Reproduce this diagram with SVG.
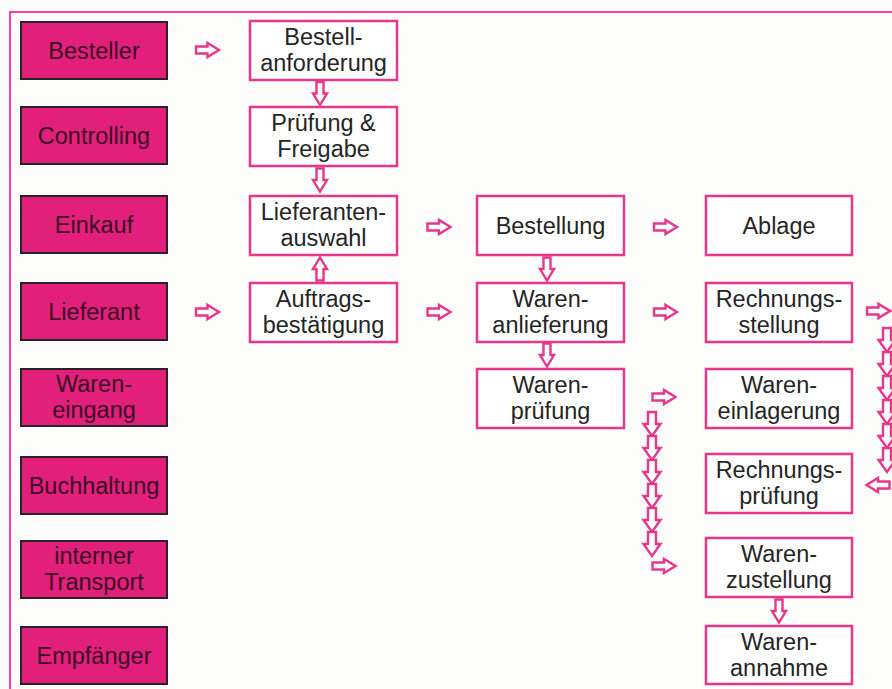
<svg xmlns="http://www.w3.org/2000/svg" xmlns:xlink="http://www.w3.org/1999/xlink" width="892" height="689" viewBox="0 0 892 689">
<style>
.lane rect{fill:#e2207b;stroke:#2b2228;stroke-width:2}
.lane text{fill:#3a0c24;font-family:"Liberation Sans",Arial,sans-serif;font-size:23.5px;text-anchor:middle}
.step rect{fill:#fff;stroke:#e8368a;stroke-width:2.5}
.step text{fill:#252525;font-family:"Liberation Sans",Arial,sans-serif;font-size:23.5px;text-anchor:middle}
.arr{fill:#fff;stroke:#e8368a;stroke-width:2.4;stroke-linejoin:miter}
</style>
<defs>
<path id="ar" d="M-11.5,-3.5 H0 V-7 L11.5,0 L0,7 V3.5 H-11.5 Z"/>
<path id="ac" d="M-12,-4 H0 V-8.5 L12,0 L0,8.5 V4 H-12 Z"/>
</defs>
<rect x="0" y="0" width="892" height="689" fill="#fdfdfb"/>
<path d="M10,689 V12 H892" fill="none" stroke="#ff3ea5" stroke-width="2"/>

<g id="lane-besteller" class="lane"><rect x="21" y="22" width="146" height="57"/><text x="94" y="59">Besteller</text></g>
<g id="lane-controlling" class="lane"><rect x="21" y="107" width="146" height="57"/><text x="94" y="144">Controlling</text></g>
<g id="lane-einkauf" class="lane"><rect x="21" y="196" width="146" height="57"/><text x="94" y="233">Einkauf</text></g>
<g id="lane-lieferant" class="lane"><rect x="21" y="283" width="146" height="57"/><text x="94" y="320">Lieferant</text></g>
<g id="lane-wareneingang" class="lane"><rect x="21" y="369" width="146" height="57"/><text x="94" y="392">Waren-</text><text x="94" y="418">eingang</text></g>
<g id="lane-buchhaltung" class="lane"><rect x="21" y="457" width="146" height="57"/><text x="94" y="494">Buchhaltung</text></g>
<g id="lane-transport" class="lane"><rect x="21" y="541" width="146" height="57"/><text x="94" y="564">interner</text><text x="94" y="590">Transport</text></g>
<g id="lane-empfaenger" class="lane"><rect x="21" y="627" width="146" height="57"/><text x="94" y="664">Empfänger</text></g>

<g id="bestellanforderung" class="step"><rect x="250" y="21" width="147" height="59"/><text x="323.5" y="45">Bestell-</text><text x="323.5" y="71">anforderung</text></g>
<g id="pruefung-freigabe" class="step"><rect x="250" y="107" width="147" height="59"/><text x="323.5" y="131">Prüfung &amp;</text><text x="323.5" y="157">Freigabe</text></g>
<g id="lieferantenauswahl" class="step"><rect x="250" y="196" width="147" height="59"/><text x="323.5" y="220">Lieferanten-</text><text x="323.5" y="246">auswahl</text></g>
<g id="auftragsbestaetigung" class="step"><rect x="250" y="283" width="147" height="59"/><text x="323.5" y="307">Auftrags-</text><text x="323.5" y="333">bestätigung</text></g>
<g id="bestellung" class="step"><rect x="477" y="196" width="147" height="59"/><text x="550.5" y="234">Bestellung</text></g>
<g id="warenanlieferung" class="step"><rect x="477" y="283" width="147" height="59"/><text x="550.5" y="307">Waren-</text><text x="550.5" y="333">anlieferung</text></g>
<g id="warenpruefung" class="step"><rect x="477" y="369" width="147" height="59"/><text x="550.5" y="393">Waren-</text><text x="550.5" y="419">prüfung</text></g>
<g id="ablage" class="step"><rect x="706" y="196" width="146" height="59"/><text x="779" y="234">Ablage</text></g>
<g id="rechnungsstellung" class="step"><rect x="706" y="283" width="146" height="59"/><text x="779" y="307">Rechnungs-</text><text x="779" y="333">stellung</text></g>
<g id="wareneinlagerung" class="step"><rect x="706" y="369" width="146" height="59"/><text x="779" y="393">Waren-</text><text x="779" y="419">einlagerung</text></g>
<g id="rechnungspruefung" class="step"><rect x="706" y="454" width="146" height="59"/><text x="779" y="478">Rechnungs-</text><text x="779" y="504">prüfung</text></g>
<g id="warenzustellung" class="step"><rect x="706" y="538" width="146" height="59"/><text x="779" y="562">Waren-</text><text x="779" y="588">zustellung</text></g>
<g id="warenannahme" class="step"><rect x="706" y="626" width="146" height="58"/><text x="779" y="650">Waren-</text><text x="779" y="676">annahme</text></g>

<g id="connectors" class="arr">
<use xlink:href="#ar" transform="translate(207.5,50)"/>
<use xlink:href="#ar" transform="translate(207.5,312)"/>
<use xlink:href="#ar" transform="translate(439,227)"/>
<use xlink:href="#ar" transform="translate(439,312)"/>
<use xlink:href="#ar" transform="translate(665.5,227)"/>
<use xlink:href="#ar" transform="translate(665.5,312)"/>
<use xlink:href="#ar" transform="translate(320,93.5) rotate(90)"/>
<use xlink:href="#ar" transform="translate(320,180) rotate(90)"/>
<use xlink:href="#ar" transform="translate(320,269) rotate(-90)"/>
<use xlink:href="#ar" transform="translate(547,269) rotate(90)"/>
<use xlink:href="#ar" transform="translate(547,355) rotate(90)"/>
<use xlink:href="#ar" transform="translate(779,611) rotate(90)"/>
<use xlink:href="#ar" transform="translate(664,397)"/>
<use xlink:href="#ac" transform="translate(652,424) rotate(90)"/>
<use xlink:href="#ac" transform="translate(652,448) rotate(90)"/>
<use xlink:href="#ac" transform="translate(652,472) rotate(90)"/>
<use xlink:href="#ac" transform="translate(652,496) rotate(90)"/>
<use xlink:href="#ac" transform="translate(652,520) rotate(90)"/>
<use xlink:href="#ac" transform="translate(652,544) rotate(90)"/>
<use xlink:href="#ar" transform="translate(664,566)"/>
<use xlink:href="#ar" transform="translate(878.5,311)"/>
<use xlink:href="#ac" transform="translate(887,340) rotate(90)"/>
<use xlink:href="#ac" transform="translate(887,364) rotate(90)"/>
<use xlink:href="#ac" transform="translate(887,388) rotate(90)"/>
<use xlink:href="#ac" transform="translate(887,412) rotate(90)"/>
<use xlink:href="#ac" transform="translate(887,436) rotate(90)"/>
<use xlink:href="#ac" transform="translate(887,460) rotate(90)"/>
<use xlink:href="#ar" transform="translate(878,485) rotate(180)"/>
</g>
</svg>
